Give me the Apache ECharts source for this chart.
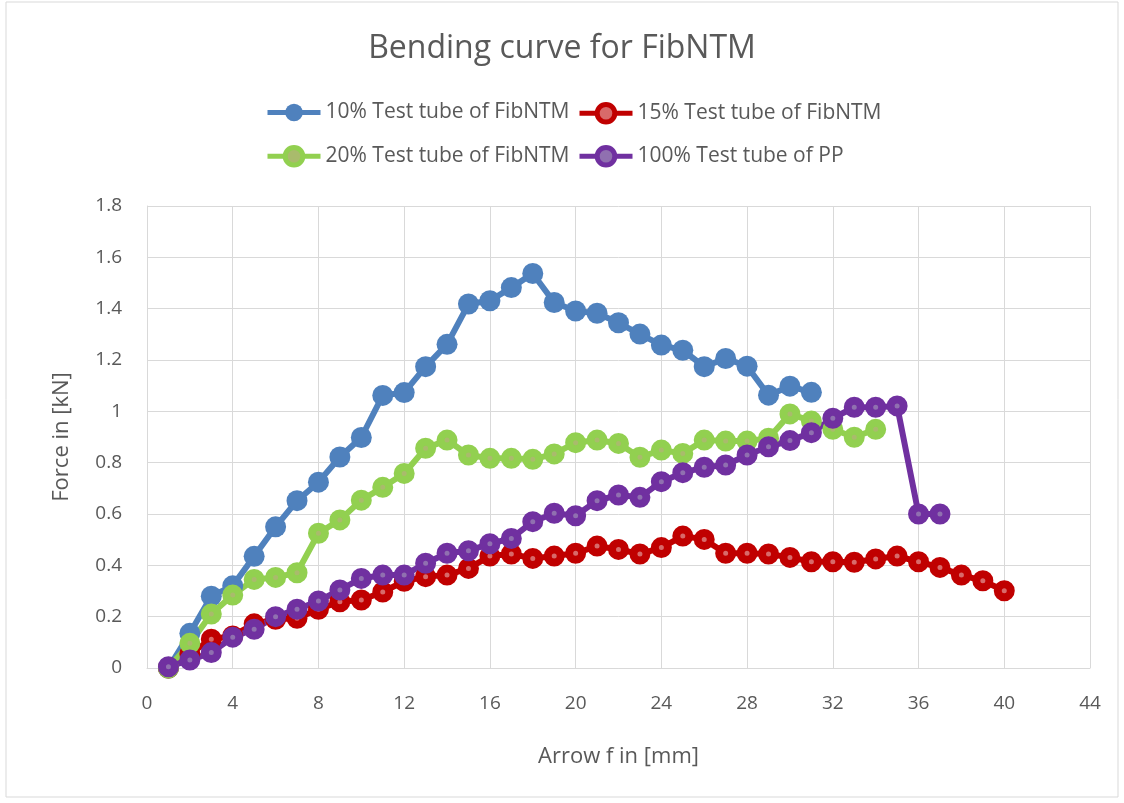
<!DOCTYPE html>
<html>
<head>
<meta charset="utf-8">
<title>Bending curve for FibNTM</title>
<script src="https://cdn.jsdelivr.net/npm/echarts@6/dist/echarts.min.js"></script>
<style>
	html, body { margin: 0; padding: 0; background: #fff; }
	#bendingChart { width: 1124px; height: 803px; }
</style>
</head>
<body>
<div id="bendingChart"></div>
<script>
// arrow f [mm] -> force [kN]
var arrow10 = [1,2,3,4,5,6,7,8,9,10,11,12,13,14,15,16,17,18,19,20,21,22,23,24,25,26,27,28,29,30,31];
var force10 = [0,0.135,0.28,0.32,0.435,0.55,0.652,0.724,0.822,0.898,1.062,1.073,1.174,1.261,1.418,1.431,1.482,1.537,1.424,1.391,1.382,1.345,1.301,1.258,1.238,1.174,1.206,1.176,1.063,1.098,1.074];

var arrow15 = [1,2,3,4,5,6,7,8,9,10,11,12,13,14,15,16,17,18,19,20,21,22,23,24,25,26,27,28,29,30,31,32,33,34,35,36,37,38,39,40];
var force15 = [0,0.055,0.112,0.125,0.172,0.19,0.194,0.229,0.258,0.265,0.296,0.338,0.356,0.362,0.388,0.436,0.444,0.427,0.436,0.447,0.475,0.462,0.444,0.469,0.514,0.501,0.447,0.447,0.444,0.431,0.414,0.414,0.412,0.425,0.436,0.414,0.392,0.362,0.34,0.301];

var arrow20 = [1,2,3,4,5,6,7,8,9,10,11,12,13,14,15,16,17,18,19,20,21,22,23,24,25,26,27,28,29,30,31,32,33,34];
var force20 = [0,0.096,0.21,0.284,0.345,0.353,0.371,0.525,0.577,0.654,0.704,0.758,0.856,0.888,0.83,0.817,0.817,0.813,0.834,0.878,0.888,0.875,0.821,0.849,0.836,0.888,0.884,0.884,0.895,0.99,0.962,0.93,0.899,0.93];

var arrowPP = [1,2,3,4,5,6,7,8,9,10,11,12,13,14,15,16,17,18,19,20,21,22,23,24,25,26,27,28,29,30,31,32,33,34,35,36,37];
var forcePP = [0.005,0.031,0.06,0.12,0.151,0.2,0.229,0.261,0.304,0.349,0.362,0.362,0.408,0.447,0.457,0.484,0.505,0.57,0.603,0.593,0.652,0.674,0.665,0.726,0.761,0.782,0.791,0.83,0.862,0.886,0.917,0.973,1.016,1.016,1.021,0.6,0.6];

var seriesNames = ['10% Test tube of FibNTM', '15% Test tube of FibNTM', '20% Test tube of FibNTM', '100% Test tube of PP'];
var lineColors = ['#4f81bd', '#c00000', '#92d050', '#7030a0'];
var dotColors = [null, '#d86a6a', '#a9bb6c', '#9070b0'];

var xTicks = [0,4,8,12,16,20,24,28,32,36,40,44];
var yTicks = [0,0.2,0.4,0.6,0.8,1,1.2,1.4,1.6,1.8];

var textColor = '#595959';
var gridColor = '#d9d9d9';
var fontName = '"Open Sans", "Liberation Sans", sans-serif';

function pairs(xs, ys){
	var out = [];
	for (var i = 0; i < xs.length; i++) {
		out.push([xs[i], ys[i]]);
	}
	return out;
}

function makeSeries(k, xs, ys){
	var color = lineColors[k], dotColor = dotColors[k];
	var s = {
		name : seriesNames[k],
		type : 'line',
		data : pairs(xs, ys),
		symbol : 'circle',
		showSymbol : true,
		lineStyle : { color : color, width : 6 },
		emphasis : { disabled : true },
		animation : false
	};
	if (dotColor) {
		// ringed marker with a small lighter centre
		s.symbolSize = 13;
		s.itemStyle = { color : dotColor, borderColor : color, borderWidth : 8 };
	} else {
		s.symbolSize = 21;
		s.itemStyle = { color : color, borderWidth : 0 };
	}
	return s;
}

function makeLegend(k, left, top){
	var item = {
		name : seriesNames[k],
		lineStyle : { color : lineColors[k], width : 5 },
		itemStyle : dotColors[k] ?
			{ color : dotColors[k], borderColor : lineColors[k], borderWidth : 5 } :
			{ color : lineColors[k], borderWidth : 0 }
	};
	return {
		data : [item],
		left : left,
		top : top,
		padding : 0,
		itemWidth : 53,
		itemHeight : 22,
		selectedMode : false,
		textStyle : { color : textColor, fontSize : 21, fontFamily : fontName }
	};
}

function drawBendingChart(){
	var myChart = echarts.init(document.getElementById('bendingChart'));
	var option = {
		backgroundColor : '#fff',
		animation : false,
		title : {
			text : 'Bending curve for FibNTM',
			left : 'center',
			top : 28,
			textStyle : { color : textColor, fontSize : 32, fontWeight : 'normal', fontFamily : fontName }
		},
		legend : [
			makeLegend(0, 265, 102),
			makeLegend(1, 577, 102),
			makeLegend(2, 265, 145),
			makeLegend(3, 577, 145)
		],
		graphic : [{
			type : 'rect',
			shape : { x : 6, y : 2, width : 1112, height : 795 },
			style : { fill : null, stroke : gridColor, lineWidth : 1 },
			silent : true,
			z : -1
		}],
		grid : { left : 147, right : 34, top : 206, bottom : 135 },
		xAxis : {
			type : 'value',
			min : xTicks[0],
			max : xTicks[xTicks.length - 1],
			interval : 4,
			name : 'Arrow f in [mm]',
			nameLocation : 'middle',
			nameGap : 78,
			nameTextStyle : { color : textColor, fontSize : 22, fontFamily : fontName },
			axisLine : { show : true, lineStyle : { color : gridColor, width : 1 } },
			axisTick : { show : false },
			axisLabel : { color : textColor, fontSize : 19, fontFamily : fontName, margin : 26 },
			splitLine : { show : true, lineStyle : { color : gridColor, width : 1 } }
		},
		yAxis : {
			type : 'value',
			min : yTicks[0],
			max : yTicks[yTicks.length - 1],
			interval : 0.2,
			name : 'Force in [kN]',
			nameLocation : 'middle',
			nameGap : 74,
			nameTextStyle : { color : textColor, fontSize : 22, fontFamily : fontName },
			axisLine : { show : true, lineStyle : { color : gridColor, width : 1 } },
			axisTick : { show : false },
			axisLabel : { color : textColor, fontSize : 19, fontFamily : fontName, margin : 25 },
			splitLine : { show : true, lineStyle : { color : gridColor, width : 1 } }
		},
		series : [
			makeSeries(0, arrow10, force10),
			makeSeries(1, arrow15, force15),
			makeSeries(2, arrow20, force20),
			makeSeries(3, arrowPP, forcePP)
		]
	};
	myChart.setOption(option);
}

drawBendingChart();
</script>
</body>
</html>
